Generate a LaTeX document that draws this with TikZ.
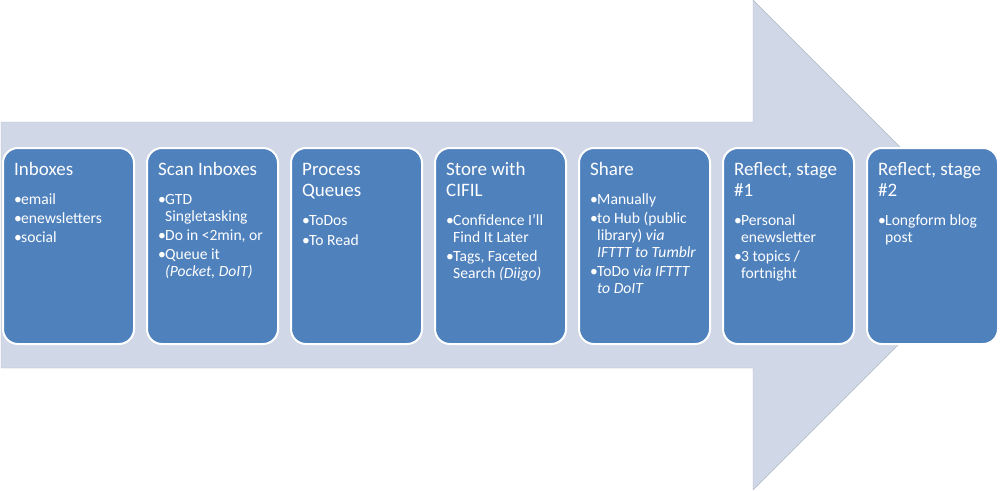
\documentclass[tikz,border=0pt]{standalone}
\usepackage{fontspec}
\setmainfont{Carlito}
\definecolor{arrowfill}{HTML}{D0D8E8}
\definecolor{boxfill}{HTML}{4F81BD}
\newcommand{\stagetitle}[1]{{\fontsize{19}{21.5}\selectfont #1\par}\vspace{10pt}}
\newcommand{\bitem}[1]{\noindent\hangindent=7pt\hangafter=1\makebox[7pt][l]{•}#1\par}
\newcommand{\stagetext}[2]{\parbox[t]{116pt}{\raggedright\stagetitle{#1}\fontsize{15.6}{16.7}\selectfont\setlength{\parskip}{2.6pt}#2}}
\tikzset{
  stagebox/.style={draw=white, line width=2pt, fill=boxfill, rounded corners=15pt,
    minimum width=131pt, minimum height=196pt, inner sep=0pt, anchor=north west},
  stagelabel/.style={inner sep=0pt, anchor=base west, text=white}
}
\begin{document}
\begin{tikzpicture}[x=1pt,y=-1pt]
\useasboundingbox (0,0) rectangle (1000,490);
\fill[arrowfill, draw=arrowfill!85!black, line width=0.4pt] (1,122) -- (753,122) -- (753,0) -- (998,245) -- (753,490) -- (753,368) -- (1,368) -- cycle;

\node[stagebox] (s1) at (2,147) {};
\node[stagebox] (s2) at (146,147) {};
\node[stagebox] (s3) at (290,147) {};
\node[stagebox] (s4) at (434,147) {};
\node[stagebox] (s5) at (578,147) {};
\node[stagebox] (s6) at (722,147) {};
\node[stagebox] (s7) at (866,147) {};

\node[stagelabel] (t1) at ([shift={(12,28)}]s1.north west) {\stagetext{Inboxes}{\bitem{email}\bitem{enewsletters}\bitem{social}}};
\node[stagelabel] (t2) at ([shift={(12,28)}]s2.north west) {\stagetext{Scan Inboxes}{\bitem{GTD\newline Singletasking}\bitem{Do in <2min, or}\bitem{Queue it\newline \textit{(Pocket, DoIT)}}}};
\node[stagelabel] (t3) at ([shift={(12,28)}]s3.north west) {\stagetext{Process\newline Queues}{\bitem{ToDos}\bitem{To Read}}};
\node[stagelabel] (t4) at ([shift={(12,28)}]s4.north west) {\stagetext{Store with\newline CIFIL}{\bitem{Confidence I’ll\newline Find It Later}\bitem{Tags, Faceted\newline Search \textit{(Diigo)}}}};
\node[stagelabel] (t5) at ([shift={(12,28)}]s5.north west) {\stagetext{Share}{\bitem{Manually}\bitem{to Hub (public\newline library) \textit{via}\newline \textit{IFTTT to Tumblr}}\bitem{ToDo \textit{via IFTTT}\newline \textit{to DoIT}}}};
\node[stagelabel] (t6) at ([shift={(12,28)}]s6.north west) {\stagetext{Reflect, stage\newline \#1}{\bitem{Personal\newline enewsletter}\bitem{3 topics /\newline fortnight}}};
\node[stagelabel] (t7) at ([shift={(12,28)}]s7.north west) {\stagetext{Reflect, stage\newline \#2}{\bitem{Longform blog\newline post}}};
\end{tikzpicture}
\end{document}
